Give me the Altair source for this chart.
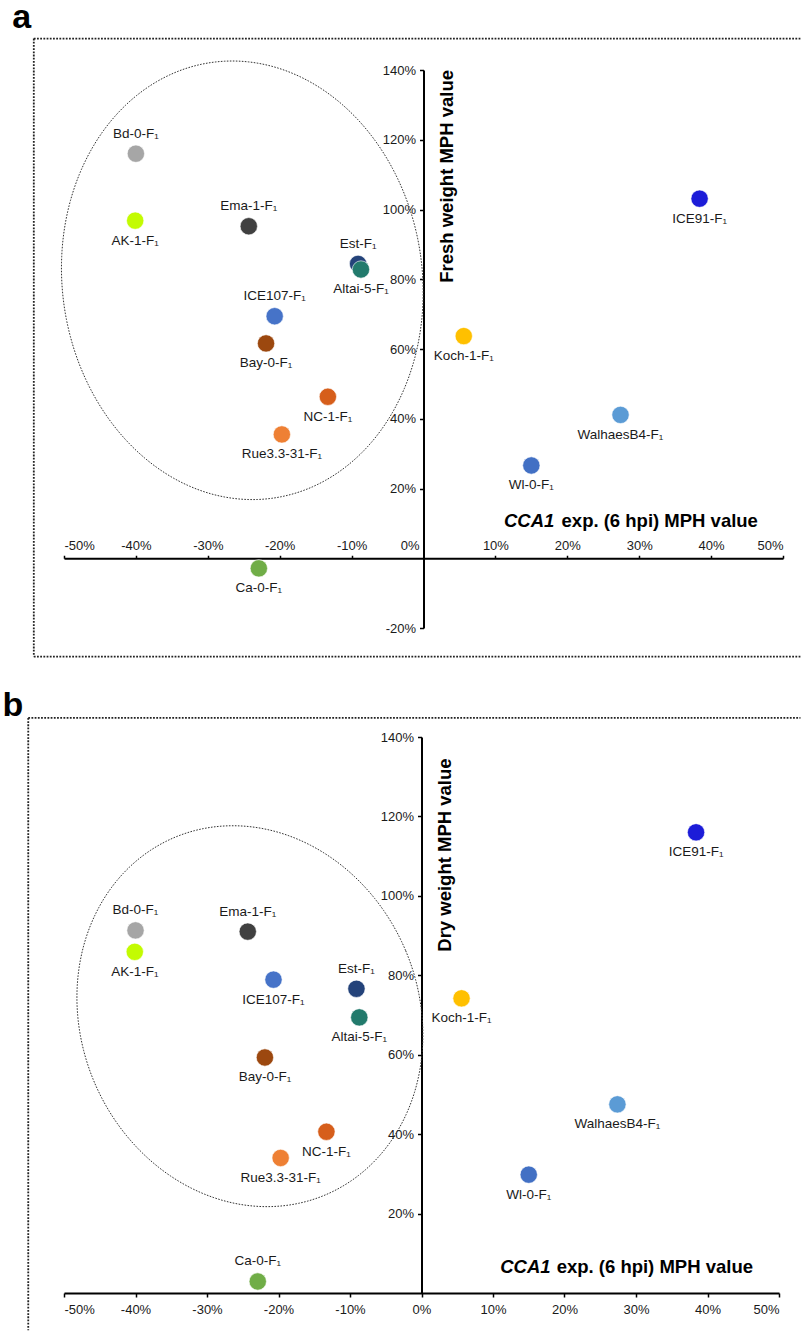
import altair as alt
import pandas as pd
import numpy as np

# ---------------- data ----------------
accessions = ["Bd-0-F₁", "AK-1-F₁", "Ema-1-F₁", "Est-F₁", "Altai-5-F₁", "ICE107-F₁",
              "Bay-0-F₁", "NC-1-F₁", "Rue3.3-31-F₁", "Ca-0-F₁", "Koch-1-F₁",
              "WalhaesB4-F₁", "Wl-0-F₁", "ICE91-F₁"]
colors = ["#a6a6a6", "#c3fb02", "#404040", "#24437a", "#227a6c", "#4673c8",
          "#9c480f", "#d65e1b", "#ee8034", "#70ad47", "#ffc000",
          "#5b9bd5", "#4270c4", "#1c1cd8"]
cca1_mph = [-40.0, -40.1, -24.3, -9.1, -8.7, -20.7, -21.9, -13.3, -19.7, -22.9,
            5.6, 27.4, 15.0, 38.4]
fresh_mph = [116.0, 96.8, 95.2, 84.4, 82.8, 69.4, 61.6, 46.3, 35.5, -2.9,
             63.7, 41.1, 26.6, 103.1]
dry_mph = [91.3, 85.9, 91.0, 76.6, 69.4, 78.9, 59.3, 40.6, 34.0, 2.9,
           74.2, 47.5, 29.8, 116.0]
label_side_a = ["above", "below", "above", "above", "below", "above", "below",
                "below", "below", "below", "below", "below", "below", "below"]
label_side_b = ["above", "below", "above", "above", "below", "below", "below",
                "below", "below", "above", "below", "below", "below", "below"]
x_ticks = [-50, -40, -30, -20, -10, 0, 10, 20, 30, 40, 50]
y_ticks_a = [-20, 20, 40, 60, 80, 100, 120, 140]
y_ticks_b = [20, 40, 60, 80, 100, 120, 140]

FONT = "Liberation Sans"
FRAME_DASH = [1.8, 1.4]

df_a = pd.DataFrame({"name": accessions, "x": cca1_mph, "y": fresh_mph,
                     "side": label_side_a, "color": colors})
df_b = pd.DataFrame({"name": accessions, "x": cca1_mph, "y": dry_mph,
                     "side": label_side_b, "color": colors})


def ellipse_df(cx, cy, a, b, theta_deg, kx, ky, n=240):
    """Decorative ellipse: centre in data units, semi-axes in pixels."""
    t = np.linspace(0, 2 * np.pi, n)
    th = np.radians(theta_deg)
    ux, uy = np.cos(th), -np.sin(th)
    vx, vy = np.sin(th), np.cos(th)
    dxp = a * np.cos(t) * ux + b * np.sin(t) * vx
    dyp = a * np.cos(t) * uy + b * np.sin(t) * vy
    return pd.DataFrame({"x": cx + dxp / kx, "y": cy - dyp / ky, "i": np.arange(n)})


def panel(df, ydom, yticks, W, H, xorient, xoffset, ytitle, ytitle_y,
          xtitle_y, cca_split, label_letter, letter_pos, frame, ell, zero_label):
    xs = alt.Scale(domain=[-50, 50], nice=False, zero=False)
    ys = alt.Scale(domain=ydom, nice=False, zero=False)
    kx = W / 100.0
    ky = H / float(ydom[1] - ydom[0])

    xticks = [v for v in x_ticks if (v != 0 or not zero_label)]
    x_axis = alt.Axis(orient=xorient, offset=xoffset, values=xticks,
                      labelExpr="datum.value + '%'", domainColor="black",
                      domainWidth=2, tickColor="black", tickWidth=1.5,
                      tickSize=4 if xorient == "bottom" else 3,
                      labelPadding=6 if xorient == "bottom" else 3,
                      labelFont=FONT, labelFontSize=13, labelColor="#1a1a1a",
                      grid=False, title=None, labelOverlap=False)
    y_axis = alt.Axis(orient="left", offset=-W / 2.0, values=yticks,
                      labelExpr="datum.value + '%'", domainColor="black",
                      domainWidth=2, tickColor="black", tickWidth=1.5,
                      tickSize=4, labelPadding=4, labelFont=FONT,
                      labelFontSize=13, labelColor="#1a1a1a", grid=False,
                      title=None, labelOverlap=False)

    def X(f="x:Q"):
        return alt.X(f, scale=xs, axis=x_axis, title=None)

    def Y(f="y:Q"):
        return alt.Y(f, scale=ys, axis=y_axis, title=None)

    # frame
    fx0, fx1, fy0, fy1, sides = frame
    rows = []
    if "top" in sides:
        rows.append({"x": fx0, "x2": fx1, "y": fy1, "y2": fy1})
    if "left" in sides:
        rows.append({"x": fx0, "x2": fx0, "y": fy1, "y2": fy0})
    if "bottom" in sides:
        rows.append({"x": fx0, "x2": fx1, "y": fy0, "y2": fy0})
    frame_df = pd.DataFrame(rows)
    frame_layer = alt.Chart(frame_df).mark_rule(
        color="#222", strokeWidth=1.8, strokeDash=FRAME_DASH).encode(
        x=X(), x2="x2:Q", y=Y(), y2="y2:Q")

    edf = ellipse_df(*ell, kx=kx, ky=ky)
    ell_layer = alt.Chart(edf).mark_line(
        color="#333", strokeWidth=1, strokeDash=[1.6, 1.4]).encode(
        x=X(), y=Y(), order="i:Q")

    pts = alt.Chart(df).mark_circle(size=300, opacity=1,
                                    stroke="white", strokeWidth=0.6).encode(
        x=X(), y=Y(), color=alt.Color("color:N", scale=None))

    lab_above = alt.Chart(df).mark_text(
        dy=-20, font=FONT, fontSize=13.5, color="#1a1a1a", baseline="middle").encode(
        x=X(), y=Y(), text="name:N").transform_filter(alt.datum.side == "above")
    lab_below = alt.Chart(df).mark_text(
        dy=20, font=FONT, fontSize=13.5, color="#1a1a1a", baseline="middle").encode(
        x=X(), y=Y(), text="name:N").transform_filter(alt.datum.side == "below")

    ytitle_df = pd.DataFrame({"x": [3.3], "y": [ytitle_y], "t": [ytitle]})
    ytitle_layer = alt.Chart(ytitle_df).mark_text(
        angle=270, align="right", baseline="middle", font=FONT,
        fontSize=18.5, fontWeight="bold", color="black").encode(
        x=X(), y=Y(), text="t:N")

    xa, xb = cca_split
    xt1 = alt.Chart(pd.DataFrame({"x": [xa], "y": [xtitle_y], "t": ["CCA1"]})).mark_text(
        align="right", baseline="middle", font=FONT, fontSize=18.5,
        fontWeight="bold", fontStyle="italic", color="black").encode(
        x=X(), y=Y(), text="t:N")
    xt2 = alt.Chart(pd.DataFrame({"x": [xb], "y": [xtitle_y],
                                  "t": ["exp. (6 hpi) MPH value"]})).mark_text(
        align="left", baseline="middle", font=FONT, fontSize=18.5,
        fontWeight="bold", color="black").encode(
        x=X(), y=Y(), text="t:N")

    letter = alt.Chart(pd.DataFrame({"x": [letter_pos[0]], "y": [letter_pos[1]],
                                     "t": [label_letter]})).mark_text(
        align="left", baseline="alphabetic", font=FONT, fontSize=34,
        fontWeight="bold", color="black").encode(
        x=X(), y=Y(), text="t:N")

    layers = [frame_layer, ell_layer, pts, lab_above, lab_below, ytitle_layer,
              xt1, xt2, letter]
    if zero_label:
        zl = alt.Chart(pd.DataFrame({"x": [0], "y": [0], "t": ["0%"]})).mark_text(
            align="right", baseline="middle", dx=-4, dy=-12.5, font=FONT,
            fontSize=13, color="#1a1a1a").encode(
            x=X(), y=Y(), text="t:N")
        layers.append(zl)
    return alt.layer(*layers).properties(width=W, height=H)


W_A, H_A = 719, 558
W_B, H_B = 715, 556

panel_a = panel(df_a, [-20, 140], y_ticks_a, W_A, H_A, "top",
                -(H_A * 140 / 160.0), "Fresh weight MPH value", 140, 10.66,
                (18.2, 19.2), "a", (-57.2, 151.9),
                (-54.2, 52.6, -28.2, 149.0, ["top", "left", "bottom"]),
                (-25.2, 79.7, 180, 220, 8), True)

panel_b = panel(df_b, [0, 140], y_ticks_b, W_B, H_B, "bottom", 0,
                "Dry weight MPH value", 134.6, 6.55,
                (18.05, 18.9), "b", (-58.6, 145.2),
                (-55.0, 53.0, -9.4, 144.8, ["top", "left"]),
                (-24.0, 69.7, 169, 194, 22.8), False)

chart = alt.vconcat(panel_a, panel_b, spacing=31).properties(
    padding={"left": 2, "top": 1, "right": 0, "bottom": 0},
    background="white"
).configure_view(stroke=None)

chart.save("out.html", embed_options={"renderer": "svg", "actions": False})
